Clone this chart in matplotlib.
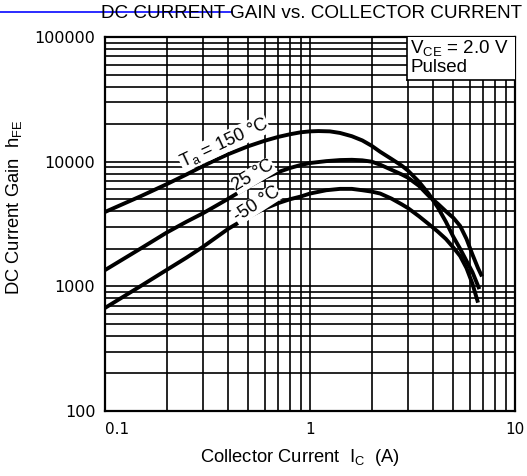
import matplotlib
matplotlib.use("Agg")
import matplotlib.pyplot as plt
import numpy as np
from matplotlib.lines import Line2D
from matplotlib.patches import Rectangle
from matplotlib.ticker import LogLocator, NullFormatter

plt.rcParams['font.family'] = ['Liberation Sans', 'DejaVu Sans']

# Collector current Ic (A) and DC current gain hFE
ic_150 = [0.1, 0.15, 0.2, 0.25, 0.3, 0.35, 0.4, 0.5, 0.6, 0.7, 0.8, 0.9, 1.0, 1.1, 1.25,
          1.4, 1.6, 1.8, 2.0, 2.2, 2.5, 2.8, 3.0, 3.4, 3.8, 4.2, 4.6, 5.0, 5.4, 5.8, 6.2, 6.7]
hfe_150 = [3950, 5300, 6600, 7900, 9200, 10400, 11500, 13300, 14700, 15800, 16600, 17200, 17500,
           17600, 17500, 17000, 16000, 14800, 13400, 12000, 10500, 9300, 8500, 6900, 5500, 4300,
           3300, 2500, 2000, 1600, 1300, 950]

ic_25 = [0.1, 0.15, 0.2, 0.25, 0.3, 0.35, 0.4, 0.5, 0.6, 0.7, 0.8, 0.9, 1.0, 1.2, 1.4, 1.6,
         1.8, 2.0, 2.2, 2.5, 2.8, 3.0, 3.4, 3.8, 4.2, 4.6, 5.0, 5.4, 5.8, 6.2, 6.6, 6.9]
hfe_25 = [1350, 2020, 2700, 3300, 3850, 4450, 5050, 6300, 7400, 8250, 8900, 9400, 9750, 10100,
          10300, 10350, 10250, 10000, 9450, 8600, 7900, 7450, 6400, 5300, 4600, 4000, 3550,
          3050, 2400, 1800, 1400, 1200]

ic_m50 = [0.1, 0.15, 0.2, 0.25, 0.3, 0.35, 0.4, 0.5, 0.6, 0.7, 0.8, 0.9, 1.0, 1.2, 1.4, 1.6,
          1.8, 2.0, 2.2, 2.5, 2.8, 3.0, 3.4, 3.8, 4.2, 4.6, 5.0, 5.4, 5.8, 6.2, 6.6]
hfe_m50 = [671, 1010, 1355, 1700, 2070, 2480, 2900, 3600, 4200, 4650, 5000, 5250, 5550, 5900,
           6050, 6050, 5900, 5750, 5550, 5050, 4550, 4250, 3650, 3150, 2750, 2400, 2050, 1750,
           1400, 1050, 740]

x_ticks = [0.1, 1, 10]
x_ticklabels = ['0.1', '1', '10']
y_ticks = [100, 1000, 10000, 100000]
y_ticklabels = ['100', '1000', '10000', '100000']

fig = plt.figure(figsize=(5.27, 4.76), dpi=100)
ax = fig.add_axes([105/527, 1-411/476, (515-105)/527, (411-37)/476])
ax.set_xscale('log')
ax.set_yscale('log')
ax.set_xlim(0.1, 10)
ax.set_ylim(100, 100000)

ax.xaxis.set_minor_locator(LogLocator(base=10, subs=np.arange(2, 10)))
ax.yaxis.set_minor_locator(LogLocator(base=10, subs=np.arange(2, 10)))
ax.xaxis.set_minor_formatter(NullFormatter())
ax.yaxis.set_minor_formatter(NullFormatter())
ax.grid(True, which='both', color='black', linewidth=1.2)
ax.set_axisbelow(True)

ax.set_xticks(x_ticks)
ax.set_xticklabels(x_ticklabels, family='DejaVu Sans', fontsize=11)
ax.set_yticks(y_ticks)
ax.set_yticklabels(y_ticklabels, family='DejaVu Sans', fontsize=11.5)
ax.tick_params(which='both', length=0)
ax.tick_params(axis='y', pad=7)
ax.tick_params(axis='x', pad=8)
ax.get_xticklabels()[0].set_ha('left')
for s in ax.spines.values():
    s.set_linewidth(1.6)

for x, y in [(ic_150, hfe_150), (ic_25, hfe_25), (ic_m50, hfe_m50)]:
    ax.plot(x, y, color='black', linewidth=2.8, solid_capstyle='butt')

# curve labels with white background to break the curves
bbox = dict(facecolor='white', edgecolor='none', pad=0.3)
ax.text(0.38, 14200, r'T$_\mathregular{a}$ = 150 °C', rotation=25, fontsize=13,
        ha='center', va='center', bbox=bbox)
ax.text(0.53, 7700, '25 °C', rotation=31, fontsize=13, ha='center', va='center', bbox=bbox)
ax.text(0.55, 4550, '-50 °C', rotation=33, fontsize=13, ha='center', va='center', bbox=bbox)

# condition box
bx0 = (407-105)/410
by0 = (411-80)/374
ax.add_patch(Rectangle((bx0, by0), 1-bx0, 1-by0, transform=ax.transAxes,
                       facecolor='white', edgecolor='none', zorder=3))
ax.add_line(Line2D([bx0, bx0], [by0, 1], transform=ax.transAxes,
                   color='black', linewidth=1.2, zorder=4))
ax.add_line(Line2D([bx0, 1], [by0, by0], transform=ax.transAxes,
                   color='black', linewidth=1.2, zorder=4))
ax.text((410-105)/410, 0.995, 'V$_\\mathregular{CE}$ = 2.0 V\nPulsed', transform=ax.transAxes,
        ha='left', va='top', fontsize=13.5, linespacing=1.0, zorder=5)

fig.text(0.991, 1-5/476, 'DC CURRENT GAIN vs. COLLECTOR CURRENT', ha='right', va='top', fontsize=13.6)
fig.text(300/527, 1-458/476, 'Collector Current  I$_\\mathregular{C}$  (A)', ha='center', va='center',
         fontsize=13.2)
fig.text(14/527, 1-207/476, 'DC Current Gain  h$_\\mathregular{FE}$', rotation=90, ha='center',
         va='center', fontsize=13.2)

fig.add_artist(Line2D([0, 232/527], [1-12/476, 1-12/476], color='#1a1aff', linewidth=1.3))

fig.savefig('out.png', dpi=100)
